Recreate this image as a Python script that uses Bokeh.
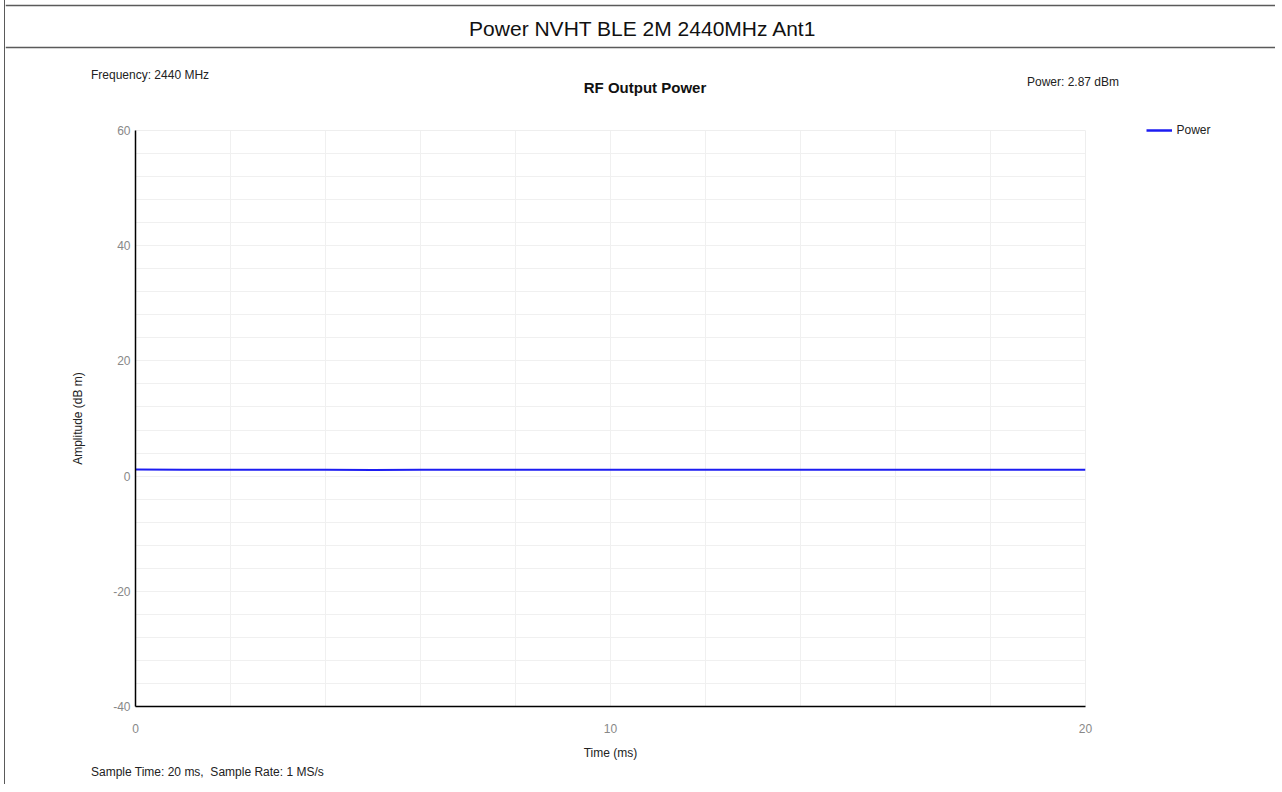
from bokeh.plotting import figure
from bokeh.layouts import column, row
from bokeh.models import (Legend, LegendItem, FixedTicker, SingleIntervalTicker, Range1d,
                          PrintfTickFormatter)
from bokeh.core.properties import value
from bokeh.embed import file_html
from bokeh.resources import INLINE

# ---- data ----
time_ms = [0, 1, 2, 3, 4, 5, 6, 7, 8, 9, 10, 11, 12, 13, 14, 15, 16, 17, 18, 19, 20]
power_dbm = [1.15, 1.1, 1.1, 1.12, 1.1, 1.08, 1.1, 1.12, 1.1, 1.1, 1.1,
             1.12, 1.1, 1.1, 1.1, 1.12, 1.1, 1.1, 1.12, 1.1, 1.12]
x_ticks = [0, 10, 20]
y_ticks = [-40, -20, 0, 20, 40, 60]

main_title = "Power NVHT BLE 2M 2440MHz Ant1"
chart_title = "RF Output Power"
freq_text = "Frequency: 2440 MHz"
power_text = "Power: 2.87 dBm"
sample_text = "Sample Time: 20 ms,\u00a0 Sample Rate: 1 MS/s"
legend_label = "Power"

NARROW = "Liberation Sans Narrow, Arial Narrow, Liberation Sans"
SANS = "Liberation Sans, Arial"
LINE_BLUE = "#1c1cf2"
W = 1270
OX = 5.5   # horizontal shift of the content caused by the page-frame border


def no_align(f):
    try:
        f.frame_align = False
    except Exception:
        pass


def blank(width, height):
    f = figure(width=width, height=height, output_backend="svg", toolbar_location=None,
               x_range=Range1d(0, width), y_range=Range1d(height, 0),
               min_border=0, min_border_left=0, min_border_right=0,
               min_border_top=0, min_border_bottom=0)
    f.axis.visible = False
    f.grid.visible = False
    f.outline_line_color = None
    f.background_fill_color = "white"
    f.border_fill_color = "white"
    no_align(f)
    return f


# ---- header: title bar and chart captions ----
HEAD_H = 116
head = blank(W, HEAD_H)
head.segment(x0=[0, 0], y0=[5, 47], x1=[W, W], y1=[5, 47],
             line_color="#5a5a5a", line_width=1.5)
head.text(x=[643 - OX], y=[28], text=[main_title], text_align="center",
          text_baseline="middle", text_font=value(SANS), text_font_size="21px",
          text_color="#111111")
head.text(x=[645 - OX], y=[87], text=[chart_title], text_align="center",
          text_baseline="middle", text_font=value(SANS), text_font_size="15px",
          text_font_style="bold", text_color="#111111")
head.text(x=[91 - OX, 1027 - OX], y=[74, 81], text=[freq_text, power_text],
          text_align="left", text_baseline="middle", text_font=value(NARROW),
          text_font_size="12px", text_color="#222222")

# ---- main chart ----
MAIN_H = 648
MAIN_W = 1100
p = figure(width=MAIN_W, height=MAIN_H, output_backend="svg", toolbar_location=None,
           x_range=Range1d(0, 20), y_range=Range1d(-40, 60),
           min_border_left=130, min_border_right=20, min_border_top=14,
           min_border_bottom=58)
no_align(p)
p.background_fill_color = "white"
p.border_fill_color = "white"
p.outline_line_color = "#eeeeee"

p.xgrid.ticker = SingleIntervalTicker(interval=2)
p.ygrid.ticker = SingleIntervalTicker(interval=4)
p.xgrid.grid_line_color = "#f0f0f0"
p.ygrid.grid_line_color = "#f0f0f0"

for ax in (p.xaxis[0], p.yaxis[0]):
    ax.axis_line_color = "black"
    ax.axis_line_width = 1.5
    ax.major_tick_out = 0
    ax.major_tick_in = 0
    ax.minor_tick_out = 0
    ax.minor_tick_in = 0
    ax.formatter = PrintfTickFormatter(format="%d")
    ax.major_label_text_color = "#888888"
    ax.major_label_text_font = SANS
    ax.major_label_text_font_size = "12px"
    ax.axis_label_text_font = NARROW
    ax.axis_label_text_font_size = "12px"
    ax.axis_label_text_font_style = "normal"
    ax.axis_label_text_color = "#222222"
p.xaxis.ticker = FixedTicker(ticks=x_ticks)
p.yaxis.ticker = FixedTicker(ticks=y_ticks)
p.xaxis.axis_label = "Time (ms)"
p.yaxis.axis_label = "Amplitude (dB m)"
p.xaxis.major_label_standoff = 17
p.xaxis.axis_label_standoff = 10
p.yaxis.major_label_standoff = 5
p.yaxis.axis_label_standoff = 25

p.line(time_ms, power_dbm, line_color=LINE_BLUE, line_width=2)

# ---- legend column at the right of the chart ----
LEG_W = W - MAIN_W
leg = blank(LEG_W, MAIN_H)
# hidden copy of the series, only used to draw the legend key
key = leg.line(time_ms, power_dbm, line_color=LINE_BLUE, line_width=2.5, visible=False)
legend = Legend(items=[LegendItem(label=legend_label, renderers=[key])],
                location=(40.5, MAIN_H - 21), padding=0, margin=0, spacing=0,
                glyph_width=26, glyph_height=14, label_standoff=5,
                label_text_font=NARROW, label_text_font_size="12px",
                label_text_color="#222222", inactive_fill_alpha=0,
                border_line_alpha=0, background_fill_alpha=0)
leg.add_layout(legend)

# ---- footer ----
FOOT_H = 20
foot = blank(W, FOOT_H)
foot.text(x=[91 - OX], y=[7], text=[sample_text], text_align="left",
          text_baseline="middle", text_font=value(NARROW), text_font_size="12px",
          text_color="#222222")

root = column(head, row(p, leg, spacing=0), foot, spacing=0,
              styles={"border-left": "1.5px solid #5a5a5a", "margin-left": "4px"})

open("out.html", "w").write(file_html(root, INLINE))
